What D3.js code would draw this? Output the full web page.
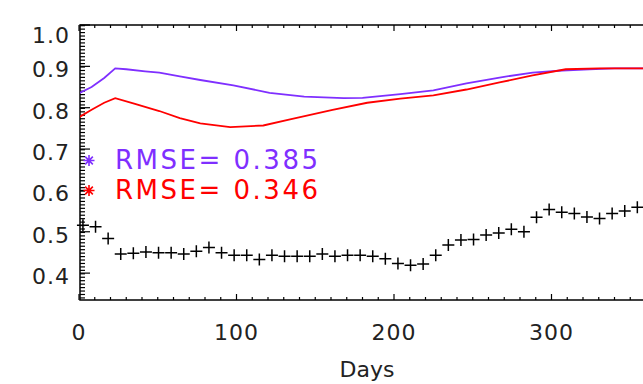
<!DOCTYPE html>
<html>
<head>
<meta charset="utf-8">
<script src="https://cdn.jsdelivr.net/npm/d3@7"></script>
<style>
  html, body { margin: 0; padding: 0; background: #fff; }
  svg { display: block; }
  text { font-family: 'DejaVu Sans', sans-serif; }
</style>
</head>
<body>
<div id="chart"></div>
<script>
// 8-day composite days and observed values (black crosses)
const obsDays = [2.5, 10.5, 18.5, 26.5, 34.5, 42.5, 50.5, 58.5, 66.5, 74.5, 82.5, 90.5,
  98.5, 106.5, 114.5, 122.5, 130.5, 138.5, 146.5, 154.5, 162.5, 170.5, 178.5, 186.5,
  194.5, 202.5, 210.5, 218.5, 226.5, 234.5, 242.5, 250.5, 258.5, 266.5, 274.5, 282.5,
  290.5, 298.5, 306.5, 314.5, 322.5, 330.5, 338.5, 346.5, 354.5, 362.5];
const obsValues = [0.516, 0.512, 0.484, 0.446, 0.448, 0.451, 0.449, 0.449, 0.446, 0.453, 0.462, 0.449,
  0.443, 0.443, 0.433, 0.443, 0.441, 0.441, 0.441, 0.446, 0.441, 0.443, 0.443, 0.441,
  0.435, 0.423, 0.419, 0.422, 0.443, 0.468, 0.480, 0.481, 0.492, 0.497, 0.506, 0.500,
  0.535, 0.554, 0.547, 0.544, 0.536, 0.532, 0.544, 0.550, 0.559, 0.562];

// model 1 (purple)
const purpleDays = [0, 8, 16, 23, 30, 42, 51, 64, 77, 98, 121, 143, 168, 180, 204, 225, 246, 267, 288, 307, 324, 340, 365];
const purpleValues = [0.835, 0.850, 0.872, 0.895, 0.893, 0.888, 0.885, 0.876, 0.867, 0.854, 0.836, 0.827,
  0.823, 0.824, 0.833, 0.842, 0.859, 0.873, 0.885, 0.890, 0.893, 0.895, 0.895];

// model 2 (red)
const redDays = [0, 8, 16, 23, 35, 51, 64, 77, 96, 117, 134, 161, 183, 204, 225, 246, 267, 288, 309, 330, 365];
const redValues = [0.777, 0.795, 0.812, 0.823, 0.810, 0.792, 0.775, 0.762, 0.753, 0.757, 0.772, 0.795,
  0.812, 0.822, 0.830, 0.844, 0.861, 0.878, 0.893, 0.895, 0.895];

const legendLabels = ['RMSE= 0.385', 'RMSE= 0.346'];
const xTicks = [0, 100, 200, 300];
const yTicks = [0.4, 0.5, 0.6, 0.7, 0.8, 0.9, 1.0];

const PURPLE = '#7f2fff';
const RED = '#ff0000';

const width = 643, height = 384;
const plot = { left: 80, right: 654, top: 25, bottom: 300 };

const svg = d3.select('#chart').append('svg')
  .attr('width', width)
  .attr('height', height);

const x = d3.scaleLinear().domain([0, 365]).range([plot.left - 1, plot.left - 1 + 365 * 1.575]);
const y = d3.scaleLinear().domain([0.335, 1.0]).range([plot.bottom, plot.top]);

const clip = svg.append('clipPath').attr('id', 'plotclip')
  .append('rect')
  .attr('x', plot.left).attr('y', plot.top)
  .attr('width', plot.right - plot.left).attr('height', plot.bottom - plot.top);

// frame
svg.append('rect')
  .attr('x', plot.left).attr('y', plot.top)
  .attr('width', plot.right - plot.left).attr('height', plot.bottom - plot.top)
  .attr('fill', 'none').attr('stroke', '#000').attr('stroke-width', 1.5);

// x ticks (bottom and top)
const xMinor = d3.range(0, 361, 10);
xMinor.forEach(d => {
  const major = d % 100 === 0;
  const len = major ? 6 : 3;
  svg.append('line')
    .attr('x1', x(d)).attr('x2', x(d))
    .attr('y1', plot.bottom).attr('y2', plot.bottom - len)
    .attr('stroke', '#000').attr('stroke-width', 1.2);
  svg.append('line')
    .attr('x1', x(d)).attr('x2', x(d))
    .attr('y1', plot.top).attr('y2', plot.top + len)
    .attr('stroke', '#000').attr('stroke-width', 1.2);
});

// y ticks (left and right), dense minor ticks
const yMinor = d3.range(0, 80).map(i => 0.34 + i * 0.1 / 12).filter(v => v <= 1.0);
yMinor.forEach(v => {
  svg.append('line')
    .attr('x1', plot.left).attr('x2', plot.left + 5)
    .attr('y1', y(v)).attr('y2', y(v))
    .attr('stroke', '#000').attr('stroke-width', 1.2);
  svg.append('line')
    .attr('x1', plot.right).attr('x2', plot.right - 5)
    .attr('y1', y(v)).attr('y2', y(v))
    .attr('stroke', '#000').attr('stroke-width', 1.2);
});
yTicks.forEach(v => {
  svg.append('line')
    .attr('x1', plot.left).attr('x2', plot.left + 10)
    .attr('y1', y(v)).attr('y2', y(v))
    .attr('stroke', '#000').attr('stroke-width', 1.2);
  svg.append('line')
    .attr('x1', plot.right).attr('x2', plot.right - 10)
    .attr('y1', y(v)).attr('y2', y(v))
    .attr('stroke', '#000').attr('stroke-width', 1.2);
});

// tick labels
svg.selectAll('.ylab')
  .data(yTicks)
  .join('text')
  .attr('class', 'ylab')
  .attr('x', 70)
  .attr('y', d => y(d) + 11 + (d === 1.0 ? 7 : 0))
  .attr('text-anchor', 'end')
  .attr('font-size', '22px')
  .attr('letter-spacing', '1')
  .attr('fill', '#222')
  .text(d => d.toFixed(1));

svg.selectAll('.xlab')
  .data(xTicks)
  .join('text')
  .attr('class', 'xlab')
  .attr('x', d => x(d))
  .attr('y', 340)
  .attr('text-anchor', 'middle')
  .attr('font-size', '22px')
  .attr('letter-spacing', '1')
  .attr('fill', '#222')
  .text(d => d);

svg.append('text')
  .attr('x', (plot.left + plot.right) / 2)
  .attr('y', 377)
  .attr('text-anchor', 'middle')
  .attr('font-size', '22px')
  .attr('fill', '#222')
  .text('Days');

// series
const g = svg.append('g').attr('clip-path', 'url(#plotclip)');

const line = d3.line().x(d => x(d[0])).y(d => y(d[1]));

g.append('path')
  .datum(purpleDays.map((d, i) => [d, purpleValues[i]]))
  .attr('d', line)
  .attr('fill', 'none')
  .attr('stroke', PURPLE)
  .attr('stroke-width', 1.8);

g.append('path')
  .datum(redDays.map((d, i) => [d, redValues[i]]))
  .attr('d', line)
  .attr('fill', 'none')
  .attr('stroke', RED)
  .attr('stroke-width', 1.8);

// observation crosses
const crossSize = 6;
obsDays.forEach((d, i) => {
  const cx = x(d), cy = y(obsValues[i]);
  svg.append('path')
    .attr('d', `M${cx - crossSize},${cy}H${cx + crossSize}M${cx},${cy - crossSize}V${cy + crossSize}`)
    .attr('stroke', '#000')
    .attr('stroke-width', 1.5)
    .attr('fill', 'none');
});

// legend with asterisk symbols
const legendColors = [PURPLE, RED];
const legendY = [169, 199];
legendLabels.forEach((label, i) => {
  const cy = legendY[i] - 8.5;
  const cx = 89;
  const r = 5.5;
  const path = d3.path();
  path.moveTo(cx - r, cy); path.lineTo(cx + r, cy);
  path.moveTo(cx, cy - r); path.lineTo(cx, cy + r);
  path.moveTo(cx - r * 0.7, cy - r * 0.7); path.lineTo(cx + r * 0.7, cy + r * 0.7);
  path.moveTo(cx - r * 0.7, cy + r * 0.7); path.lineTo(cx + r * 0.7, cy - r * 0.7);
  svg.append('path')
    .attr('d', path.toString())
    .attr('stroke', legendColors[i])
    .attr('stroke-width', 1.6);

  svg.append('text')
    .attr('x', 115)
    .attr('y', legendY[i])
    .attr('font-size', '26px')
    .attr('textLength', 203)
    .attr('lengthAdjust', 'spacing')
    .attr('fill', legendColors[i])
    .text(label);
});
</script>
</body>
</html>
